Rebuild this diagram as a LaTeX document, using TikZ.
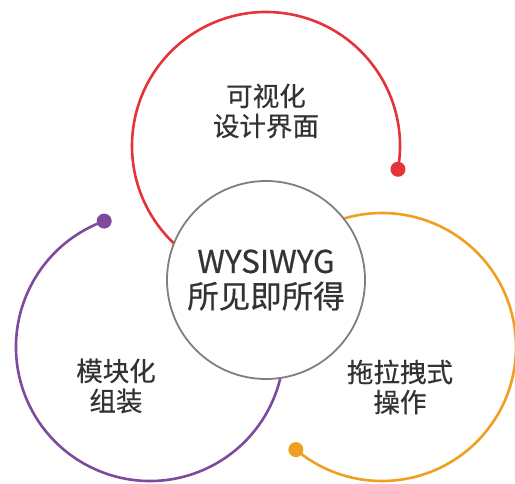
\documentclass[tikz,border=0pt]{standalone}
\usepackage{fontspec}
\setmainfont{Noto Sans CJK SC}[FakeBold=0.5]
\definecolor{cred}{HTML}{E5333A}
\definecolor{cpurple}{HTML}{7D4A9D}
\definecolor{corange}{HTML}{F0A020}
\definecolor{cgray}{HTML}{7F7F7F}
\definecolor{ctext}{HTML}{333333}
\begin{document}
\begin{tikzpicture}[x=1pt,y=1pt,
  ring/.style={line width=2.6pt},
  dotnode/.style={circle, inner sep=0pt, minimum size=15pt},
  lbl/.style={align=center, text=ctext, font=\fontsize{26.5}{30}\selectfont},
  hub/.style={circle, draw=cgray, fill=white, line width=1.8pt, minimum size=198pt, inner sep=0pt,
              align=center, text=ctext, font=\fontsize{31.5}{35}\selectfont}]
\useasboundingbox (0,0) rectangle (515,483);
\fill[white] (0,0) rectangle (515,483);
\coordinate (G) at (266,203);
\coordinate (R) at (266,337);
\coordinate (P) at (150,136);
\coordinate (Y) at (382,136);
% red ring
\draw[ring, cred] ([shift={(-10:134)}]R) arc[start angle=-10, end angle=226.65, radius=134];
\node[dotnode, fill=cred] (rd) at ([shift={(-10:134)}]R) {};
% purple ring
\draw[ring, cpurple] ([shift={(110:134)}]P) arc[start angle=110, end angle=346.65, radius=134];
\node[dotnode, fill=cpurple] (pd) at ([shift={(110:134)}]P) {};
% orange ring
\draw[ring, corange] ([shift={(230:134)}]Y) arc[start angle=230, end angle=466.65, radius=134];
\node[dotnode, fill=corange] (yd) at ([shift={(230:134)}]Y) {};
% hub
\node[hub] (hubc) at (G) {WYSIWYG\\所见即所得};
% labels
\node[lbl] (lr) at (266,372) {可视化\\设计界面};
\node[lbl] (lp) at (116,97) {模块化\\组装};
\node[lbl] (ly) at (400,96) {拖拉拽式\\操作};
\end{tikzpicture}
\end{document}
